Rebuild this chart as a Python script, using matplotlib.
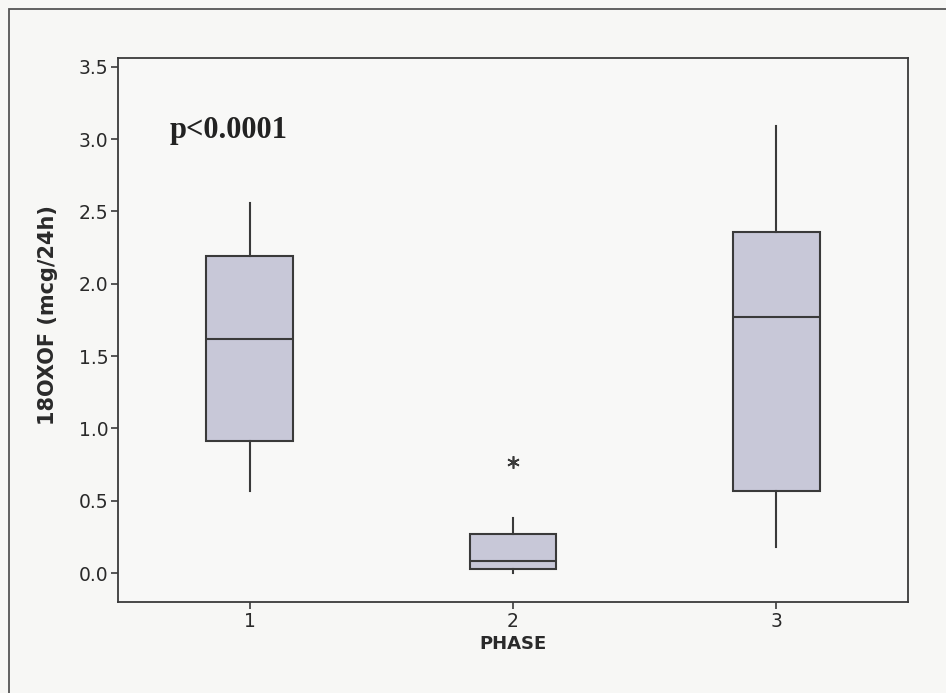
import matplotlib
matplotlib.use("Agg")
import matplotlib.pyplot as plt
from matplotlib.patches import Rectangle

# Five-number summaries of 18OXOF excretion per phase
phases = [1, 2, 3]
whisker_low = [0.57, 0.00, 0.18]
q1 = [0.91, 0.03, 0.57]
medians = [1.62, 0.08, 1.77]
q3 = [2.19, 0.27, 2.36]
whisker_high = [2.56, 0.38, 3.09]
outliers = [[], [0.77], []]

yticks = [0.0, 0.5, 1.0, 1.5, 2.0, 2.5, 3.0, 3.5]
ytick_labels = ["0.0", "0.5", "1.0", "1.5", "2.0", "2.5", "3.0", "3.5"]

stats = [
    dict(med=m, q1=a, q3=b, whislo=lo, whishi=hi, fliers=f, label=str(p))
    for p, lo, a, m, b, hi, f in zip(phases, whisker_low, q1, medians, q3, whisker_high, outliers)
]

fig = plt.figure(figsize=(9.46, 6.93), dpi=100, facecolor="#f7f7f5")
ax = fig.add_axes([118 / 946, 1 - 602 / 693, (908 - 118) / 946, (602 - 58) / 693])
ax.set_facecolor("#f8f8f7")

edge = "#3a3a3a"
ax.bxp(
    stats,
    positions=phases,
    widths=0.33,
    patch_artist=True,
    showcaps=False,
    boxprops=dict(facecolor="#c8c8d8", edgecolor=edge, linewidth=1.5),
    medianprops=dict(color=edge, linewidth=1.5),
    whiskerprops=dict(color=edge, linewidth=1.5),
    flierprops=dict(marker=(6, 2, 0), markersize=9, markeredgecolor=edge,
                    markeredgewidth=1.2, linestyle="none"),
)

ax.set_xlim(0.5, 3.5)
ax.set_ylim(-0.20, 3.56)
ax.set_yticks(yticks)
ax.set_yticklabels(ytick_labels)
ax.set_xticks(phases)
ax.set_xticklabels([str(p) for p in phases])

for s in ax.spines.values():
    s.set_color(edge)
    s.set_linewidth(1.3)
ax.tick_params(direction="out", length=5, width=1.2, color=edge,
               labelsize=13.5, labelcolor="#2a2a2a", pad=2)

ax.set_ylabel("18OXOF (mcg/24h)", fontsize=15, fontweight="bold", color="#2a2a2a")
ax.yaxis.set_label_coords(-(118 - 58) / 790, 0.528)
ax.set_xlabel("PHASE", fontsize=13, fontweight="bold", color="#2a2a2a", labelpad=3)

ax.text(0.695, 3.06, "p<0.0001", family="Liberation Serif", fontweight="bold",
        fontsize=22, color="#222222", va="center", ha="left")

# Outer panel frame
fig.add_artist(Rectangle((9 / 946, -0.1), 1.2, 1 - 9 / 693 + 0.1,
                         transform=fig.transFigure, fill=False,
                         edgecolor="#555555", linewidth=1.3))

fig.savefig("out.png", dpi=100, facecolor=fig.get_facecolor())
